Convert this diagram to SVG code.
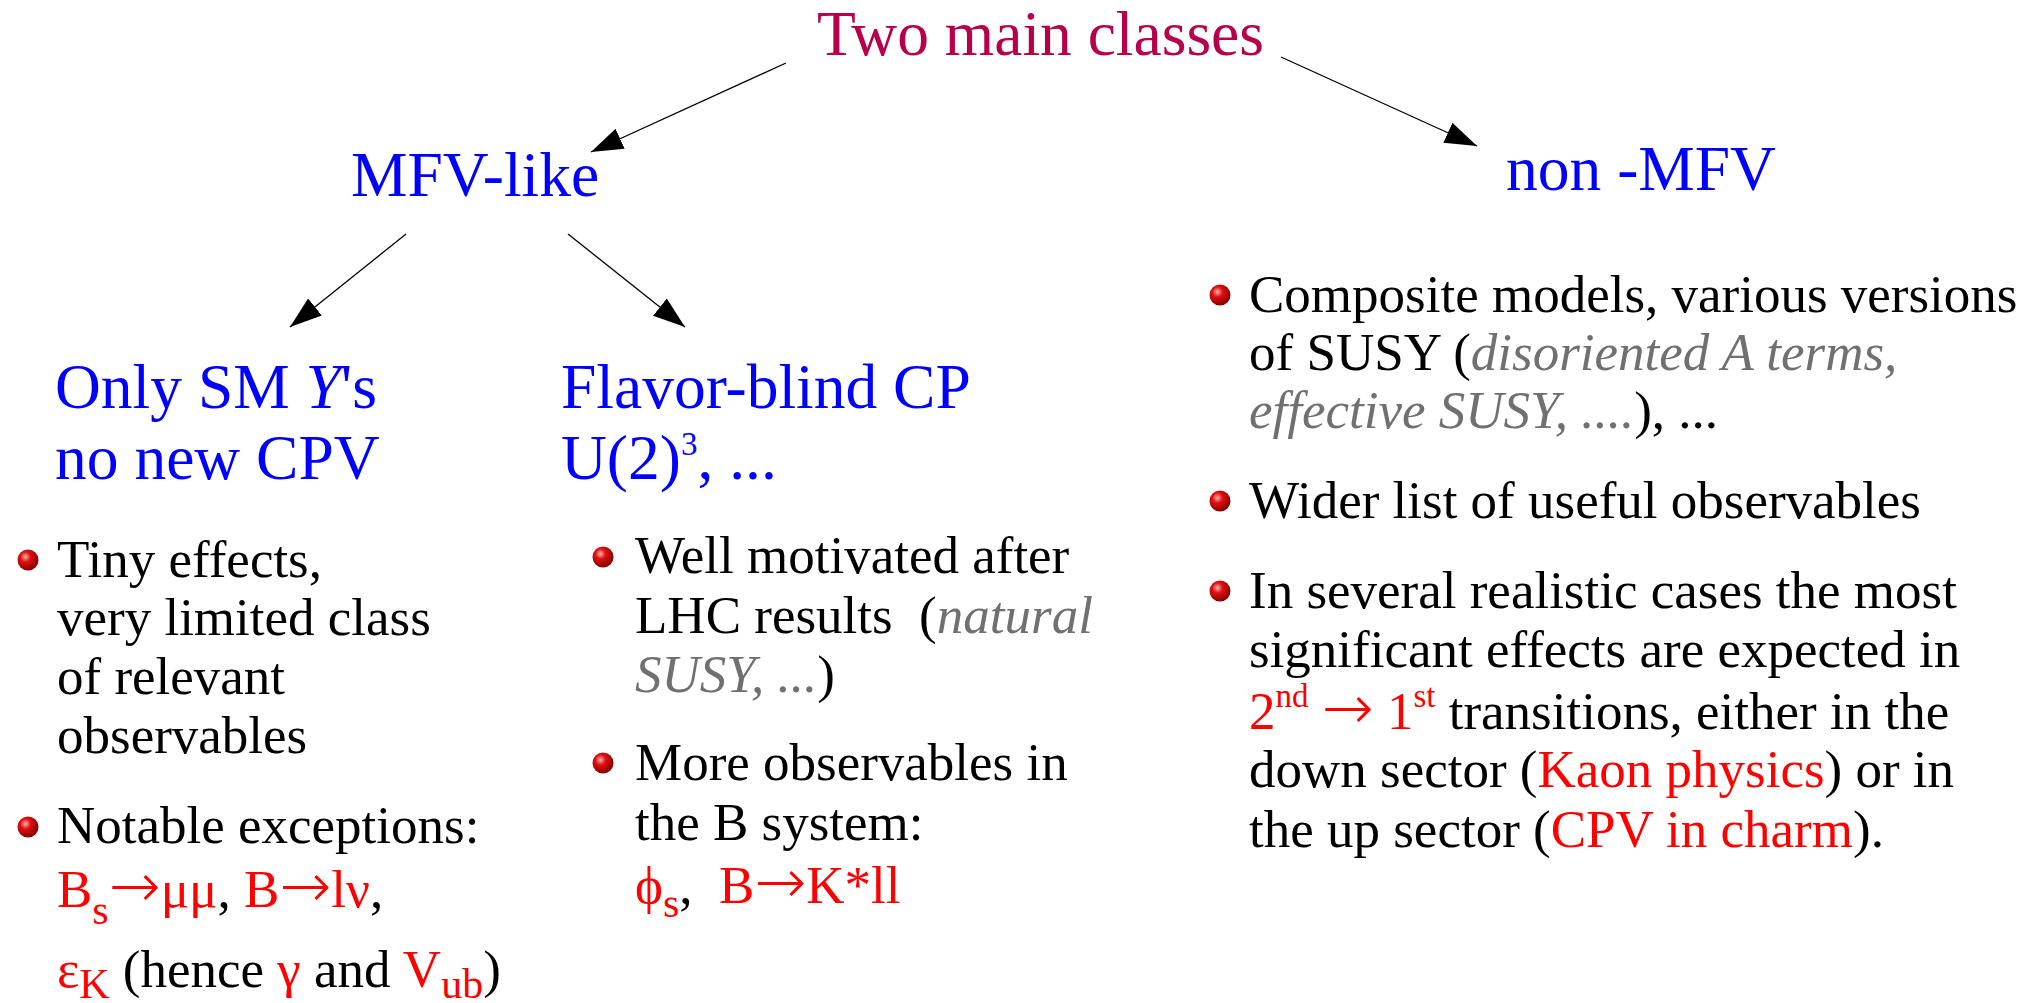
<svg xmlns="http://www.w3.org/2000/svg" width="2042" height="1003" viewBox="0 0 2042 1003">
<style>
text{font-family:"Liberation Serif","Times New Roman",serif;white-space:pre}
.h{font-size:63.5px;fill:#0000ff}
.t{font-size:63.5px;fill:#b8004a}
.b{font-size:53px;fill:#000}
.r{fill:#ff0000}
.g{fill:#707070;font-style:italic}
.sub{font-size:42px}
.sup{font-size:33px}
.ar{font-family:"DejaVu Sans",sans-serif;font-weight:200;font-size:62px}
.conn line{stroke:#000;stroke-width:1.3;marker-end:url(#ah)}
</style>
<defs>
<marker id="ah" markerUnits="userSpaceOnUse" markerWidth="34" markerHeight="24" refX="32" refY="12" orient="auto">
<path d="M0,1 L32,12 L0,23 z" fill="#000"/>
</marker>
<radialGradient id="ball" cx="0.38" cy="0.35" r="0.7">
<stop offset="0" stop-color="#ffb0b0"/>
<stop offset="0.35" stop-color="#e01010"/>
<stop offset="1" stop-color="#7a0000"/>
</radialGradient>
</defs>
<rect width="2042" height="1003" fill="#fff"/>

<g class="conn" id="connectors">
<line x1="786" y1="63" x2="591" y2="152"/>
<line x1="1281" y1="57" x2="1477" y2="146"/>
<line x1="406" y1="234" x2="290" y2="327"/>
<line x1="568" y1="234" x2="685" y2="327"/>
</g>

<g id="title"><text class="t" x="817" y="55">Two main classes</text></g>

<g id="mfv"><text class="h" x="351" y="196">MFV-like</text></g>

<g id="nonmfv"><text class="h" x="1506" y="190">non -MFV</text></g>

<g id="onlysm">
<text class="h" x="55" y="408">Only SM <tspan font-style="italic">Y</tspan>'s</text>
<text class="h" x="55" y="479">no new CPV</text>
</g>

<g id="flavorblind">
<text class="h" x="561" y="408">Flavor-blind CP</text>
<text class="h" x="561" y="479">U(2)<tspan class="sup" dy="-24">3</tspan><tspan dy="24">, ...</tspan></text>
</g>

<g id="left-bullets">
<circle cx="28" cy="560" r="10.5" fill="url(#ball)"/>
<text class="b" x="57" y="577">Tiny effects,</text>
<text class="b" x="57" y="635">very limited class</text>
<text class="b" x="57" y="694">of relevant</text>
<text class="b" x="57" y="753">observables</text>
<circle cx="28" cy="827" r="10.5" fill="url(#ball)"/>
<text class="b" x="57" y="843">Notable exceptions:</text>
<text class="b" x="57" y="907"><tspan class="r">B</tspan><tspan class="r sub" dy="17">s</tspan><tspan class="r ar" dy="-17">→</tspan><tspan class="r">μμ</tspan>, <tspan class="r">B</tspan><tspan class="r ar">→</tspan><tspan class="r">lν</tspan>,</text>
<text class="b" x="57" y="987"><tspan class="r">ε</tspan><tspan class="r sub" dy="11">K</tspan><tspan dy="-11"> (hence </tspan><tspan class="r">γ</tspan> and <tspan class="r">V</tspan><tspan class="r sub" dy="11">ub</tspan><tspan dy="-11">)</tspan></text>
</g>

<g id="mid-bullets">
<circle cx="603" cy="557" r="10.5" fill="url(#ball)"/>
<text class="b" x="635" y="573">Well motivated after</text>
<text class="b" x="635" y="633">LHC results  (<tspan class="g">natural</tspan></text>
<text class="b" x="635" y="692"><tspan class="g">SUSY, ...</tspan>)</text>
<circle cx="603" cy="763" r="10.5" fill="url(#ball)"/>
<text class="b" x="635" y="780">More observables in</text>
<text class="b" x="635" y="840">the B system:</text>
<text class="b" x="635" y="903"><tspan class="r">ϕ</tspan><tspan class="r sub" dy="14">s</tspan><tspan dy="-14">,  </tspan><tspan class="r">B</tspan><tspan class="r ar">→</tspan><tspan class="r">K*ll</tspan></text>
</g>

<g id="right-bullets">
<circle cx="1220" cy="295" r="10.5" fill="url(#ball)"/>
<text class="b" x="1249" y="312">Composite models, various versions</text>
<text class="b" x="1249" y="370">of SUSY (<tspan class="g">disoriented A terms,</tspan></text>
<text class="b" x="1249" y="428"><tspan class="g">effective SUSY, ....</tspan>), ...</text>
<circle cx="1220" cy="501" r="10.5" fill="url(#ball)"/>
<text class="b" x="1249" y="518">Wider list of useful observables</text>
<circle cx="1220" cy="591" r="10.5" fill="url(#ball)"/>
<text class="b" x="1249" y="608">In several realistic cases the most</text>
<text class="b" x="1249" y="667">significant effects are expected in</text>
<text class="b" x="1249" y="729"><tspan class="r">2</tspan><tspan class="r sup" dy="-22">nd</tspan><tspan class="r" dy="22"> </tspan><tspan class="r ar">→</tspan><tspan class="r"> 1</tspan><tspan class="r sup" dy="-22">st</tspan><tspan dy="22"> transitions, either in the</tspan></text>
<text class="b" x="1249" y="787">down sector (<tspan class="r">Kaon physics</tspan>) or in</text>
<text class="b" x="1249" y="847">the up sector (<tspan class="r">CPV in charm</tspan>).</text>
</g>
</svg>
